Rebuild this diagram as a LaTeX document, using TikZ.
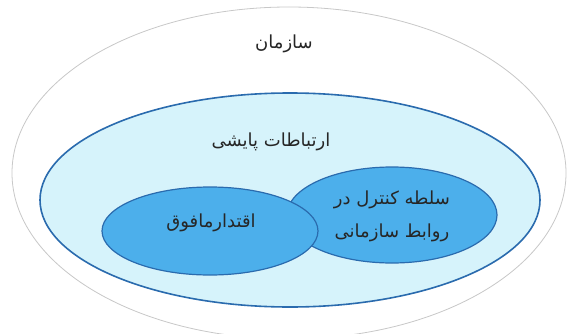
\documentclass[tikz,border=0pt]{standalone}
\usepackage{fontspec}
\TeXXeTstate=1
\newfontfamily\farsi[Script=Arabic]{DejaVu Sans}
\usepackage{tikz}
\definecolor{bordgris}{RGB}{200,200,200}
\definecolor{bleuclair}{RGB}{214,243,251}
\definecolor{bleu}{RGB}{76,175,235}
\definecolor{bleutrait}{RGB}{42,107,174}
\tikzset{texte/.style={font=\farsi\fontsize{18}{33}\selectfont,align=center,text=black!85}}

\begin{document}
\begin{tikzpicture}[x=1pt,y=1pt]
\useasboundingbox (0,0) rectangle (567,333);
\clip (0,0) rectangle (567,333);
\draw [line width=0.8pt,bordgris,fill=white] (289,160) ellipse (277 and 166);
\draw [line width=1.6pt,bleutrait,fill=bleuclair] (290,133) ellipse (250 and 107);
\draw [line width=1.2pt,bleutrait,fill=bleu] (392,118) ellipse (105 and 48);
\draw [line width=1.2pt,bleutrait,fill=bleu] (210,102) ellipse (108 and 44);
\node[texte] (org) at (284,289) {\beginR سازمان\endR};
\node[texte] (pay) at (271,191) {\beginR ارتباطات پایشی\endR};
\node[texte] (eqt) at (211,110) {\beginR اقتدارمافوق\endR};
\node[texte] (sol) at (392,117) {\beginR سلطه کنترل در\endR\\\beginR روابط سازمانی\endR};
\end{tikzpicture}
\end{document}
